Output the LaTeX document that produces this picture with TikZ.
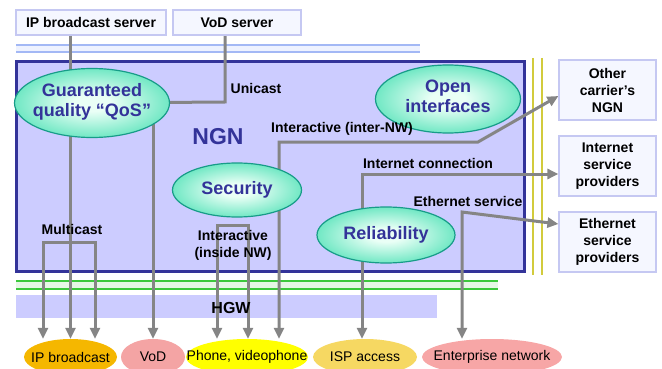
\documentclass[tikz,border=0pt]{standalone}
\usepackage{fontspec}
\setmainfont{Liberation Sans}
\usetikzlibrary{arrows.meta, shapes.geometric}
\pgfdeclarelayer{bg}
\pgfdeclarelayer{lines}
\pgfsetlayers{bg,lines,main}

\definecolor{ngnblue}{HTML}{333399}
\definecolor{ngnfill}{HTML}{CCCCFF}
\definecolor{conngray}{HTML}{858585}
\definecolor{boxline}{HTML}{C5C8F2}
\definecolor{boxfill}{HTML}{F5F7FF}
\definecolor{ovaledge}{HTML}{179C88}
\definecolor{ovalout}{HTML}{1ED8A2}
\definecolor{ovalin}{HTML}{EAFFF6}
\definecolor{skyline}{HTML}{A3B8F5}
\definecolor{skyfill}{HTML}{EEF2FF}
\definecolor{grnline}{HTML}{3CC83C}
\definecolor{grnfill}{HTML}{E6F7E6}
\definecolor{yelline}{HTML}{D2CB3C}
\definecolor{ipbcol}{HTML}{F5B700}
\definecolor{vodcol}{HTML}{F4A4A4}
\definecolor{phonecol}{HTML}{FFFF00}
\definecolor{ispcol}{HTML}{F6D862}
\definecolor{entcol}{HTML}{F7A6A6}
\pgfdeclareradialshading{ovalshade}{\pgfpoint{0bp}{0bp}}{color(0bp)=(ovalin); color(6bp)=(ovalin); color(38bp)=(ovalout); color(50bp)=(ovalout)}

\begin{document}
\begin{tikzpicture}[x=1pt, y=-1pt, >={Triangle[length=11pt,width=10pt]},
    srvbox/.style={draw=boxline, fill=boxfill, line width=1.2pt, inner sep=0pt, align=center, font=\fontsize{14}{17}\selectfont\bfseries},
    oval/.style={ellipse, draw=ovaledge, line width=1.2pt, shading=ovalshade, inner sep=0pt, text=ngnblue, font=\fontsize{18}{20}\selectfont\bfseries},
    endpt/.style={ellipse, inner sep=0pt, minimum height=36pt, font=\fontsize{14}{16}\selectfont},
    conn/.style={draw=conngray, line width=3pt},
    lbl/.style={inner sep=0pt, align=center, font=\fontsize{14}{17}\selectfont\bfseries}]
    \useasboundingbox (0,0) rectangle (662,369);

    % 背景
    \begin{pgfonlayer}{bg}
        \fill[skyfill] (16,44) rectangle (420,53);
        \draw[skyline, line width=2pt] (16,45) -- (420,45) (16,52) -- (420,52);
        \draw[ngnblue, fill=ngnfill, line width=3pt] (16.5,61.5) rectangle (524,271);
        \draw[yelline, line width=2pt] (533,58) -- (533,275) (542,58) -- (542,275);
        \fill[grnfill] (16,281) rectangle (498,289);
        \draw[grnline, line width=2pt] (16,281) -- (498,281) (16,289) -- (498,289);
        \fill[ngnfill] (16,295) rectangle (437,318);
    \end{pgfonlayer}

    % 服务器
    \node[srvbox, minimum width=150pt, minimum height=25pt] (ipsrv) at (91,22.5) {IP broadcast server};
    \node[srvbox, minimum width=128pt, minimum height=25pt] (vodsrv) at (237,22.5) {VoD server};

    % 其他网络
    \node[srvbox, minimum width=97pt, minimum height=60pt] (ocarrier) at (607.5,90) {Other\\carrier’s\\NGN};
    \node[srvbox, minimum width=97pt, minimum height=60pt] (isprov) at (607.5,166) {Internet\\service\\providers};
    \node[srvbox, minimum width=97pt, minimum height=60pt] (eprov) at (607.5,242) {Ethernet\\service\\providers};

    % NGN 特性
    \node[oval, minimum width=155pt, minimum height=69pt] (qos) at (92,103) {\makebox[0pt]{\begin{tabular}{@{}c@{}}Guaranteed\\quality “QoS”\end{tabular}}};
    \node[oval, minimum width=145pt, minimum height=68pt] (openif) at (448,99) {\makebox[0pt]{\begin{tabular}{@{}c@{}}Open\\interfaces\end{tabular}}};
    \node[oval, minimum width=129pt, minimum height=54pt] (sec) at (237,190) {\makebox[0pt]{Security}};
    \node[oval, minimum width=138pt, minimum height=56pt] (rel) at (386,235) {\makebox[0pt]{Reliability}};
    \node[text=ngnblue, inner sep=0pt, font=\fontsize{23}{25}\selectfont\bfseries] (ngn) at (218,137) {NGN};

    % 用户侧
    \node[endpt, fill=ipbcol, minimum width=93pt] (ipb) at (70.5,357) {\makebox[0pt]{IP broadcast}};
    \node[endpt, fill=vodcol, minimum width=64pt] (vod) at (153,357) {\makebox[0pt]{VoD}};
    \node[endpt, fill=phonecol, minimum width=122pt] (phone) at (247,357) {\makebox[0pt]{Phone, videophone}};
    \node[endpt, fill=ispcol, minimum width=104pt] (isp) at (365,357) {\makebox[0pt]{ISP access}};
    \node[endpt, fill=entcol, minimum width=140pt] (ent) at (492,357) {\makebox[0pt]{Enterprise network}};

    % 标签
    \node[lbl] (uni) at (256,88) {Unicast};
    \node[lbl] (iinter) at (342,129) {Interactive (inter-NW)};
    \node[lbl] (inet) at (428,163) {Internet connection};
    \node[lbl] (eth) at (468,201) {Ethernet service};
    \node[lbl] (mcast) at (72,229) {Multicast};
    \node[lbl] (iinside) at (233,245) {Interactive\\(inside NW)};
    \node[inner sep=0pt, font=\fontsize{16}{18}\selectfont\bfseries] (hgw) at (231,308) {HGW};

    % 连线
    \coordinate (mcl) at (43,242);
    \coordinate (mcr) at (95,242);
    \coordinate (uc) at (225,102);
    \coordinate (inl) at (217,225);
    \coordinate (inr) at (248,225);
    \coordinate (ix) at (279,142);
    \coordinate (ib) at (478,142);
    \coordinate (icx) at (362,174);
    \coordinate (esx) at (462,212);
    \begin{pgfonlayer}{lines}
        \draw[conn, ->] (ipsrv.south -| ipb.north) -- (ipb.north);
        \draw[conn, <->] (ipb.north -| mcl) -- (mcl) -- (mcr) -- (ipb.north -| mcr);
        \draw[conn] (vodsrv.south -| uc) -- (uc) -- (qos);
        \draw[conn, ->] (qos.center -| vod.north) -- (vod.north);
        \draw[conn, <->] (phone.north -| inl) -- (inl) -- (inr) -- (phone.north -| inr);
        \draw[conn, <->] (phone.north -| ix) -- (ix) -- (ib) -- ([yshift=-6pt]ocarrier.west);
        \draw[conn, <->] (isp.north -| icx) -- (icx) -- (icx -| isprov.west);
        \draw[conn, <->] (ent.north -| esx) -- (esx) -- ([yshift=18pt]eprov.west);
    \end{pgfonlayer}
\end{tikzpicture}
\end{document}
